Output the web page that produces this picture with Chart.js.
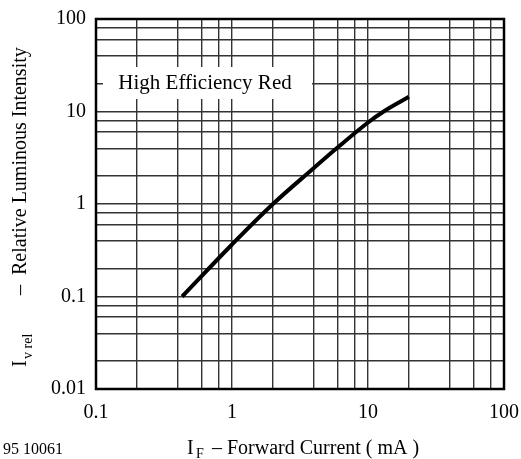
<!DOCTYPE html>
<html>
<head>
<meta charset="utf-8">
<script src="https://cdn.jsdelivr.net/npm/chart.js@4/dist/chart.umd.min.js"></script>
<style>
  body { margin: 0; background: #fff; }
  #wrap { width: 521px; height: 459px; }
</style>
</head>
<body>
<div id="wrap"><canvas id="ledChart" width="521" height="459"></canvas></div>
<script>
// forward current (mA) vs relative luminous intensity
const currentMA = [0.43, 1, 2, 4, 6, 10, 13.3, 20];
const intensityRel = [0.1, 0.365, 1.0, 2.45, 4.1, 7.6, 10.2, 14.4];

// grid lines (2, 4, 6, 8 per decade) and labelled ticks
const xGrid = [0.1, 0.2, 0.4, 0.6, 0.8, 1, 2, 4, 6, 8, 10, 20, 40, 60, 80, 100];
const yGrid = [0.01, 0.02, 0.04, 0.06, 0.08, 0.1, 0.2, 0.4, 0.6, 0.8, 1, 2, 4, 6, 8, 10, 20, 40, 60, 80, 100];
const xTickLabels = ["0.1", "1", "10", "100"];
const yTickLabels = ["0.01", "0.1", "1", "10", "100"];

const seriesLabel = "High Efficiency Red";
const serif = "'Liberation Serif', 'Times New Roman', serif";

function tickLabel(value, labels) {
  const s = String(+value.toPrecision(3));
  return labels.includes(s) ? s : "";
}

// titles, curve label box, frame and drawing number
const decorations = {
  id: "decorations",
  afterDraw(chart) {
    const ctx = chart.ctx;
    const a = chart.chartArea;
    ctx.save();

    // label box over the grid
    ctx.fillStyle = "#fff";
    ctx.fillRect(a.left + 7, a.top + 48, 209, 32);
    ctx.fillStyle = "#000";
    ctx.font = "21px " + serif;
    ctx.textAlign = "center";
    ctx.textBaseline = "middle";
    ctx.fillText(seriesLabel, a.left + 109, a.top + 64);

    // frame
    ctx.strokeStyle = "#000";
    ctx.lineWidth = 2.5;
    ctx.strokeRect(a.left, a.top, a.right - a.left, a.bottom - a.top);

    // x axis title
    ctx.textAlign = "left";
    ctx.textBaseline = "alphabetic";
    ctx.font = "20px " + serif;
    ctx.fillText("I", 187, 454);
    ctx.font = "14px " + serif;
    ctx.fillText("F", 196, 458);
    ctx.font = "20px " + serif;
    ctx.fillText("\u2013 Forward Current ( mA )", 212, 454);

    // drawing number
    ctx.font = "16px " + serif;
    ctx.fillText("95 10061", 3, 454);

    // y axis title, rotated
    ctx.translate(26, 367);
    ctx.rotate(-Math.PI / 2);
    ctx.font = "20px " + serif;
    ctx.fillText("I", 0, 0);
    ctx.font = "14px " + serif;
    ctx.fillText("v rel", 8, 6);
    ctx.font = "20px " + serif;
    ctx.fillText("\u2013", 72, 0);
    ctx.fillText("Relative Luminous Intensity", 92, 0);

    ctx.restore();
  }
};

new Chart(document.getElementById("ledChart"), {
  type: "line",
  data: {
    datasets: [{
      label: seriesLabel,
      data: currentMA.map((x, i) => ({ x: x, y: intensityRel[i] })),
      borderColor: "#000",
      borderWidth: 4,
      pointRadius: 0,
      tension: 0.35,
      fill: false
    }]
  },
  options: {
    responsive: false,
    animation: false,
    layout: { padding: { left: 0, top: 19, right: 17, bottom: 0 } },
    plugins: {
      legend: { display: false },
      tooltip: { enabled: false }
    },
    scales: {
      x: {
        type: "logarithmic",
        min: 0.1,
        max: 100,
        afterBuildTicks: (scale) => { scale.ticks = xGrid.map(v => ({ value: v })); },
        afterFit: (scale) => {
          scale.height = 70;
          scale.paddingLeft = 0;
          scale.paddingRight = 0;
        },
        grid: { color: "#333", lineWidth: 1.4, drawTicks: false },
        border: { display: false },
        ticks: {
          autoSkip: false,
          maxRotation: 0,
          padding: 12,
          color: "#000",
          font: { family: serif, size: 20 },
          callback: (v) => tickLabel(v, xTickLabels)
        }
      },
      y: {
        type: "logarithmic",
        min: 0.01,
        max: 100,
        afterBuildTicks: (scale) => { scale.ticks = yGrid.map(v => ({ value: v })); },
        afterFit: (scale) => {
          scale.width = 96;
          scale.paddingTop = 0;
          scale.paddingBottom = 0;
        },
        grid: { color: "#333", lineWidth: 1.4, drawTicks: false },
        border: { display: false },
        ticks: {
          autoSkip: false,
          padding: 10,
          color: "#000",
          font: { family: serif, size: 20 },
          callback: (v) => tickLabel(v, yTickLabels)
        }
      }
    }
  },
  plugins: [decorations]
});
</script>
</body>
</html>
